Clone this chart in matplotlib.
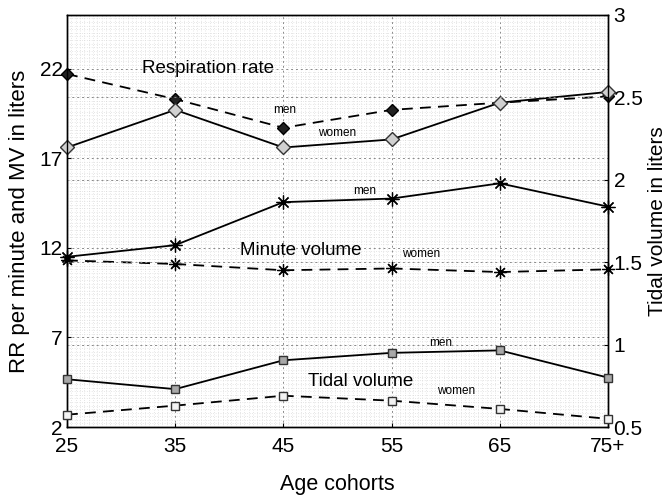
import matplotlib
matplotlib.use("Agg")
import matplotlib.pyplot as plt
from matplotlib.ticker import MultipleLocator

plt.rcParams['font.family'] = ['Liberation Sans', 'DejaVu Sans']

categories = ["25", "35", "45", "55", "65", "75+"]
rr_men = [21.7, 20.3, 18.7, 19.7, 20.1, 20.45]
rr_women = [17.6, 19.7, 17.6, 18.05, 20.1, 20.7]
mv_men = [11.5, 12.15, 14.55, 14.75, 15.6, 14.3]
mv_women = [11.3, 11.1, 10.75, 10.85, 10.65, 10.8]
tv_men = [0.79, 0.73, 0.905, 0.95, 0.965, 0.80]
tv_women = [0.575, 0.63, 0.69, 0.66, 0.61, 0.55]

left_ticks = [2, 7, 12, 17, 22]
right_ticks = [0.5, 1, 1.5, 2, 2.5, 3]
right_labels = ["0.5", "1", "1.5", "2", "2.5", "3"]

x = list(range(len(categories)))

fig = plt.figure(figsize=(6.72, 4.96), dpi=100)
ax1 = fig.add_axes([0.0997, 0.139, 0.805, 0.831])
ax2 = ax1.twinx()

ax1.set_xlim(0, 5)
ax1.set_ylim(2, 25)
ax2.set_ylim(0.5, 3)

# grids
ax1.xaxis.set_minor_locator(MultipleLocator(0.04))
ax1.yaxis.set_minor_locator(MultipleLocator(0.2))
ax1.grid(which='minor', color='#cfcfcf', linestyle=(0, (1, 2.5)), linewidth=0.5)
ax1.grid(which='major', color='#8a8a8a', linestyle=(0, (2, 3)), linewidth=0.7)
ax2.grid(which='major', axis='y', color='#8a8a8a', linestyle=(0, (2, 3)), linewidth=0.7)
ax1.set_axisbelow(True)

lw = 1.3
ds = (0, (6, 4))
ax1.plot(x, rr_men, linestyle=ds, color='black', lw=lw, marker='D', ms=6.5,
         mfc='#222222', mec='black', clip_on=False, zorder=5)
ax1.plot(x, rr_women, linestyle='-', color='black', lw=lw, marker='D', ms=7,
         mfc='#d0d0d0', mec='#333333', clip_on=False, zorder=5)
ax1.plot(x, mv_men, linestyle='-', color='black', lw=lw, marker=(8, 2, 0), ms=10,
         mec='black', mew=0.9, clip_on=False, zorder=5)
ax1.plot(x, mv_women, linestyle=ds, color='black', lw=lw, marker=(8, 2, 0), ms=9,
         mec='black', mew=0.9, clip_on=False, zorder=5)
ax2.plot(x, tv_men, linestyle='-', color='black', lw=lw, marker='s', ms=6,
         mfc='#a8a8a8', mec='#333333', clip_on=False, zorder=5)
ax2.plot(x, tv_women, linestyle=ds, color='black', lw=lw, marker='s', ms=5.5,
         mfc='#f2f2f2', mec='#333333', clip_on=False, zorder=5)

ax1.set_xticks(x)
ax1.set_xticklabels(categories)
ax1.set_yticks(left_ticks)
ax2.set_yticks(right_ticks)
ax2.set_yticklabels(right_labels)

ax1.tick_params(axis='both', which='major', labelsize=15, direction='in', length=3, pad=3)
ax1.tick_params(axis='both', which='minor', length=0)
ax1.tick_params(axis='x', pad=7)
ax2.tick_params(axis='y', labelsize=15, direction='in', length=3, pad=4)
ax2.tick_params(axis='y', which='minor', length=0)

for a in (ax1, ax2):
    for s in a.spines.values():
        s.set_linewidth(1.0)
        s.set_color('black')

ax1.set_xlabel("Age cohorts", fontsize=15.5, labelpad=13)
ax1.set_ylabel("RR per minute and MV in liters", fontsize=16, labelpad=7)
ax2.set_ylabel("Tidal volume in liters", fontsize=15, labelpad=4)

# annotations
big = 13.5
small = 8.5
ax1.text(1.30, 22.0, "Respiration rate", fontsize=big, ha='center', va='center', zorder=6)
ax1.text(2.01, 19.67, "men", fontsize=small, ha='center', va='center', zorder=6)
ax1.text(2.50, 18.39, "women", fontsize=small, ha='center', va='center', zorder=6)
ax1.text(2.75, 15.15, "men", fontsize=small, ha='center', va='center', zorder=6)
ax1.text(2.16, 11.87, "Minute volume", fontsize=big, ha='center', va='center', zorder=6)
ax1.text(3.27, 11.64, "women", fontsize=small, ha='center', va='center', zorder=6)
ax1.text(3.45, 6.68, "men", fontsize=small, ha='center', va='center', zorder=6)
ax1.text(2.71, 4.56, "Tidal volume", fontsize=big, ha='center', va='center', zorder=6)
ax1.text(3.60, 4.00, "women", fontsize=small, ha='center', va='center', zorder=6)

fig.savefig("out.png", dpi=100)
